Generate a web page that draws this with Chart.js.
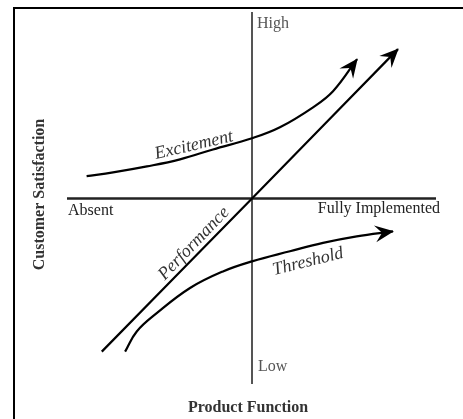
<!DOCTYPE html>
<html><head><meta charset="utf-8">
<script src="https://cdn.jsdelivr.net/npm/chart.js@4/dist/chart.umd.min.js"></script>
<style>html,body{margin:0;padding:0;background:#fff;}#wrap{width:463px;height:419px;position:relative;}</style>
</head><body><div id="wrap"><canvas id="c" width="463" height="419"></canvas></div>
<script>
// Curve names
const curveNames = ['Excitement', 'Performance', 'Threshold'];
// x: product function (-1 = absent, 1 = fully implemented); y: satisfaction (-1 = low, 1 = high)
const excitementX = [-0.894, -0.751, -0.568, -0.389, -0.211, 0, 0.151, 0.330, 0.438, 0.568];
const excitementY = [0.120, 0.140, 0.172, 0.210, 0.263, 0.323, 0.382, 0.489, 0.575, 0.747];
const performanceX = [-0.812, 0, 0.789];
const performanceY = [-0.821, 0, 0.801];
const thresholdX = [-0.686, -0.623, -0.515, -0.335, -0.157, 0, 0.205, 0.384, 0.566, 0.762];
const thresholdY = [-0.821, -0.713, -0.615, -0.480, -0.391, -0.337, -0.283, -0.238, -0.203, -0.176];
// Axis end labels
const xEndLabels = ['Absent', 'Fully Implemented'];
const yEndLabels = ['Low', 'High'];
const xTitle = 'Product Function';
const yTitle = 'Customer Satisfaction';

function pts(xs, ys) { return xs.map((x, i) => ({x: x, y: ys[i]})); }

const SERIF = '"Liberation Serif", "Times New Roman", serif';

// label placement (in data units) and rotation for each curve name
const labelPlace = {
  Excitement: {x: -0.314, y: 0.285, rot: -13},
  Performance: {x: -0.314, y: -0.242, rot: -46},
  Threshold: {x: 0.303, y: -0.339, rot: -14}
};

const kanoPlugin = {
  id: 'kano',
  beforeDatasetsDraw(chart) {
    const ctx = chart.ctx, a = chart.chartArea;
    const xs = chart.scales.x, ys = chart.scales.y;
    const ox = xs.getPixelForValue(0), oy = ys.getPixelForValue(0);
    ctx.save();
    // frame (top and left)
    ctx.strokeStyle = '#000';
    ctx.lineWidth = 2;
    ctx.beginPath();
    ctx.moveTo(463, 8); ctx.lineTo(14, 8); ctx.lineTo(14, 419);
    ctx.stroke();
    // vertical axis
    ctx.strokeStyle = '#555';
    ctx.lineWidth = 2;
    ctx.beginPath();
    ctx.moveTo(ox, a.top); ctx.lineTo(ox, a.bottom - 1);
    ctx.stroke();
    // horizontal axis
    ctx.strokeStyle = '#222';
    ctx.lineWidth = 2.5;
    ctx.beginPath();
    ctx.moveTo(a.left, oy); ctx.lineTo(a.right - 1, oy);
    ctx.stroke();
    ctx.restore();
  },
  afterDatasetsDraw(chart) {
    const ctx = chart.ctx, a = chart.chartArea;
    const xs = chart.scales.x, ys = chart.scales.y;
    const ox = xs.getPixelForValue(0), oy = ys.getPixelForValue(0);
    ctx.save();
    // arrowheads
    chart.data.datasets.forEach((ds, i) => {
      const meta = chart.getDatasetMeta(i);
      const n = meta.data.length;
      const p = meta.data[n - 1];
      let cx = p.cp1x, cy = p.cp1y;
      if (cx === undefined || (Math.abs(cx - p.x) < 0.5 && Math.abs(cy - p.y) < 0.5)) {
        cx = meta.data[n - 2].x; cy = meta.data[n - 2].y;
      }
      const ang = Math.atan2(p.y - cy, p.x - cx);
      ctx.save();
      ctx.translate(p.x, p.y);
      ctx.rotate(ang);
      ctx.fillStyle = '#000';
      ctx.beginPath();
      ctx.moveTo(1, 0);
      ctx.lineTo(-18, -8.5);
      ctx.lineTo(-11, 0);
      ctx.lineTo(-18, 8.5);
      ctx.closePath();
      ctx.fill();
      ctx.restore();
    });
    // curve labels
    ctx.fillStyle = '#333';
    ctx.font = 'italic 18px ' + SERIF;
    ctx.textAlign = 'center';
    ctx.textBaseline = 'middle';
    curveNames.forEach(name => {
      const pl = labelPlace[name];
      ctx.save();
      ctx.translate(xs.getPixelForValue(pl.x), ys.getPixelForValue(pl.y));
      ctx.rotate(pl.rot * Math.PI / 180);
      ctx.fillText(name, 0, 0);
      ctx.restore();
    });
    // axis end labels
    ctx.font = '16px ' + SERIF;
    ctx.textBaseline = 'middle';
    ctx.fillStyle = '#555';
    ctx.textAlign = 'left';
    ctx.fillText(yEndLabels[1], ox + 5, a.top + 12);
    ctx.fillText(yEndLabels[0], ox + 6, a.bottom - 18);
    ctx.fillStyle = '#222';
    ctx.fillText(xEndLabels[0], a.left + 1, oy + 12);
    ctx.textAlign = 'right';
    ctx.fillText(xEndLabels[1], a.right + 3, oy + 10);
    // titles
    ctx.font = 'bold 16px ' + SERIF;
    ctx.fillStyle = '#333';
    ctx.textAlign = 'center';
    ctx.fillText(xTitle, ox - 4, 408);
    ctx.save();
    ctx.translate(40, oy - 4);
    ctx.rotate(-Math.PI / 2);
    ctx.fillText(yTitle, 0, 0);
    ctx.restore();
    ctx.restore();
  }
};

const lineStyle = {
  showLine: true,
  pointRadius: 0,
  borderColor: '#000',
  borderWidth: 2.2,
  tension: 0.4,
  fill: false,
  clip: false
};

new Chart(document.getElementById('c'), {
  type: 'scatter',
  data: {
    datasets: [
      Object.assign({label: curveNames[0], data: pts(excitementX, excitementY)}, lineStyle),
      Object.assign({label: curveNames[1], data: pts(performanceX, performanceY)}, lineStyle),
      Object.assign({label: curveNames[2], data: pts(thresholdX, thresholdY)}, lineStyle)
    ]
  },
  options: {
    responsive: false,
    animation: false,
    events: [],
    layout: {padding: {left: 67, right: 26, top: 12, bottom: 34}},
    scales: {
      x: {type: 'linear', min: -1, max: 1, display: false},
      y: {type: 'linear', min: -1, max: 1, display: false}
    },
    plugins: {legend: {display: false}, tooltip: {enabled: false}}
  },
  plugins: [kanoPlugin]
});
</script>
</body></html>
